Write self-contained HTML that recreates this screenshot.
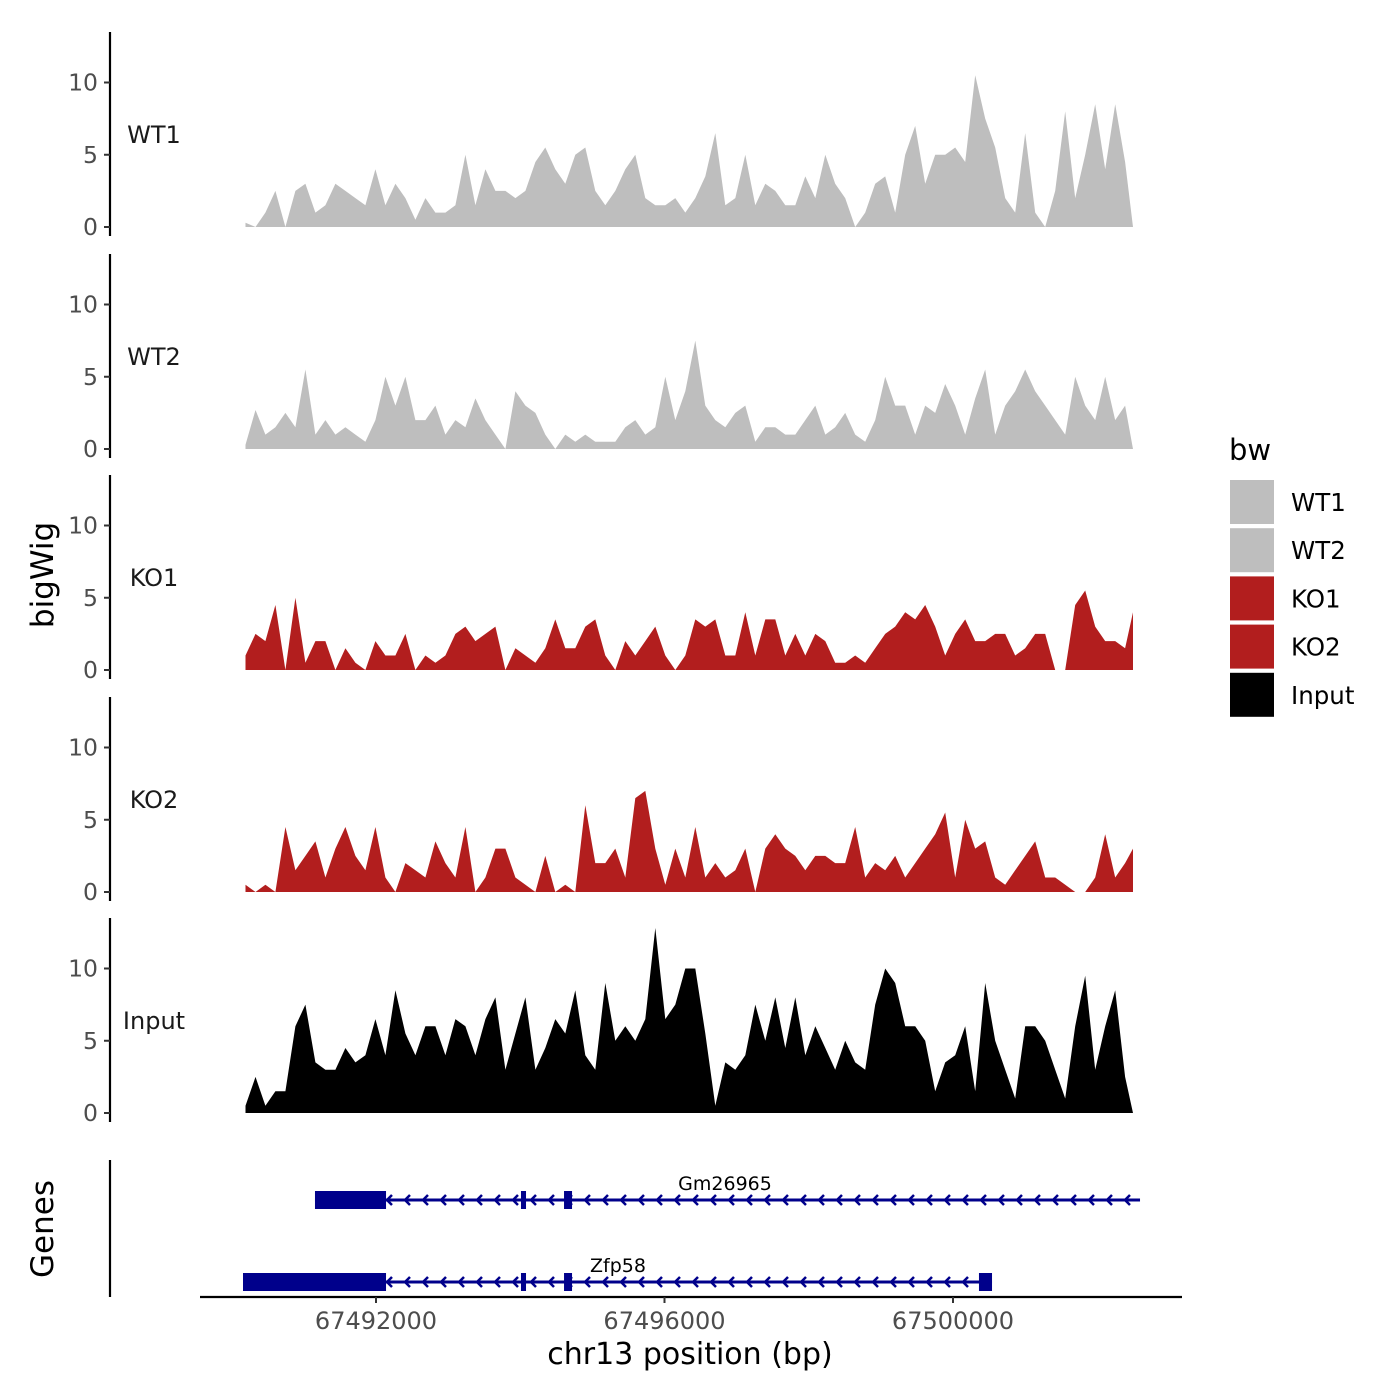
<!DOCTYPE html>
<html><head><meta charset="utf-8"><style>
html,body{margin:0;padding:0;background:#fff;}
svg{display:block;font-family:"DejaVu Sans","Liberation Sans",sans-serif;}
</style></head><body>
<svg id="chart" width="1400" height="1400" viewBox="0 0 1400 1400"></svg>
<script>
const tracks = ["WT1","WT2","KO1","KO2","Input"];
const trackColors = ["#bebebe","#bebebe","#b21e1e","#b21e1e","#000000"];
const binStart = 67490190;
const binSize = 138.6;
const wt1 = [0.3,0,1,2.5,0,2.5,3,1,1.5,3,2.5,2,1.5,4,1.5,3,2,0.5,2,1,1,1.5,5,1.5,4,2.5,2.5,2,2.5,4.5,5.5,4,3,5,5.5,2.5,1.5,2.5,4,5,2,1.5,1.5,2,1,2,3.5,6.5,1.5,2,5,1.5,3,2.5,1.5,1.5,3.5,2,5,3,2,0,1,3,3.5,1,5,7,3,5,5,5.5,4.5,10.5,7.5,5.5,2,1,6.5,1,0,2.5,8,2,5,8.5,4,8.5,4.5,0];
const wt2 = [0.3,2.7,1,1.5,2.5,1.5,5.5,1,2,1,1.5,1,0.5,2,5,3,5,2,2,3,1,2,1.5,3.5,2,1,0,4,3,2.5,1,0,1,0.5,1,0.5,0.5,0.5,1.5,2,1,1.5,5,2,4,7.5,3,2,1.5,2.5,3,0.5,1.5,1.5,1,1,2,3,1,1.5,2.5,1,0.5,2,5,3,3,1,3,2.5,4.5,3,1,3.5,5.5,1,3,4,5.5,4,3,2,1,5,3,2,5,2,3,0];
const ko1 = [1,2.5,2,4.5,0,5,0.5,2,2,0,1.5,0.5,0,2,1,1,2.5,0,1,0.5,1,2.5,3,2,2.5,3,0,1.5,1,0.5,1.5,3.5,1.5,1.5,3,3.5,1,0,2,1,2,3,1,0,1,3.5,3,3.5,1,1,4,1,3.5,3.5,1,2.5,1,2.5,2,0.5,0.5,1,0.5,1.5,2.5,3,4,3.5,4.5,3,1,2.5,3.5,2,2,2.5,2.5,1,1.5,2.5,2.5,0,0,4.5,5.5,3,2,2,1.5,4];
const ko2 = [0.5,0,0.5,0,4.5,1.5,2.5,3.5,1,3,4.5,2.5,1.5,4.5,1,0,2,1.5,1,3.5,2,1,4.5,0,1,3,3,1,0.5,0,2.5,0,0.5,0,6,2,2,3,1,6.5,7,3,0.5,3,1,4.5,1,2,1,1.5,3,0,3,4,3,2.5,1.5,2.5,2.5,2,2,4.5,1,2,1.5,2.5,1,2,3,4,5.5,1,5,3,3.5,1,0.5,1.5,2.5,3.5,1,1,0.5,0,0,1,4,1,2,3];
const input = [0.5,2.5,0.5,1.5,1.5,6,7.5,3.5,3,3,4.5,3.5,4,6.5,4,8.5,5.5,4,6,6,4,6.5,6,4,6.5,8,3,5.5,8,3,4.5,6.5,5.5,8.5,4,3,9,5,6,5,6.5,12.8,6.5,7.5,10,10,5.5,0.5,3.5,3,4,7.5,5,8,4.5,8,4,6,4.5,3,5,3.5,3,7.5,10,9,6,6,5,1.5,3.5,4,6,1.5,9,5,3,1,6,6,5,3,1,6,9.5,3,6,8.5,2.5,0];
const trackValues = [wt1,wt2,ko1,ko2,input];
const yTicks = [0,5,10];
const xTicks = [67492000,67496000,67500000];
const xTickLabels = ["67492000","67496000","67500000"];
const genes = ["Gm26965","Zfp58"];
const geneStarts = [67491154,67490156];
const geneEnds = [67502593,67500541];
const geneExons = [
  [[67491154,67492139],[67494010,67494080],[67494607,67494718]],
  [[67490156,67492139],[67494010,67494080],[67494607,67494718],[67500360,67500541]]
];
const geneLabelPos = [67496839,67495355];

const NS="http://www.w3.org/2000/svg";
const svg=document.getElementById('chart');
function mk(tag,attrs,parent){const e=document.createElementNS(NS,tag);for(const k in attrs)e.setAttribute(k,attrs[k]);(parent||svg).appendChild(e);return e;}
function xScale(bp){return 376+(bp-67492000)*0.072125;}
const panelZero=[227,449,670,892,1113];
const pxPerUnit=14.45;
function yScale(p,v){return panelZero[p]-v*pxPerUnit;}

tracks.forEach((t,p)=>{
  const g=mk('g',{});
  
  
  const vals=trackValues[p];
  let d='M'+xScale(binStart).toFixed(1)+','+yScale(p,0);
  vals.forEach((v,i)=>{let x=xScale(binStart+i*binSize);if(x>1133)x=1133;d+=' L'+x.toFixed(1)+','+yScale(p,v).toFixed(1);});
  let xe=xScale(binStart+(vals.length-1)*binSize);if(xe>1133)xe=1133;
  d+=' L'+xe.toFixed(1)+','+yScale(p,0)+' Z';
  const a=mk('path',{d:d,fill:trackColors[p],stroke:'none'},g);
  
  
  const top=panelZero[p]-195, bot=panelZero[p]+9;
  const ax=mk('line',{x1:110,x2:110,y1:top,y2:bot,stroke:'#000','stroke-width':2.2},g);
  
  
  yTicks.forEach(v=>{
    const y=yScale(p,v);
    mk('line',{x1:104,x2:110,y1:y,y2:y,stroke:'#333','stroke-width':2},g);
    const tx=mk('text',{x:98,y:y+8,'text-anchor':'end','font-size':23.5,fill:'#4d4d4d'},g);
    tx.textContent=v;
    
    
  });
  const lb=mk('text',{x:154,y:panelZero[p]-84,'text-anchor':'middle','font-size':24,fill:'#1a1a1a'},g);
  lb.textContent=t;
  
  
});

const yt=mk('text',{x:0,y:0,transform:'translate(53,575) rotate(-90)','text-anchor':'middle','font-size':31,fill:'#000'});
yt.textContent='bigWig';



const gax=mk('line',{x1:110,x2:110,y1:1160,y2:1297,stroke:'#000','stroke-width':2.2});


const gt=mk('text',{x:0,y:0,transform:'translate(53,1229) rotate(-90)','text-anchor':'middle','font-size':31,fill:'#000'});
gt.textContent='Genes';


const geneY=[1200,1282];
genes.forEach((gname,gi)=>{
  const g=mk('g',{});
  
  
  const y=geneY[gi], x1=xScale(geneStarts[gi]), x2=xScale(geneEnds[gi]);
  mk('line',{x1:x1,x2:x2,y1:y,y2:y,stroke:'#00008b','stroke-width':3},g);
  for(let x=x1+72;x<x2;x+=18){
    mk('path',{d:`M${x+5},${y-5} L${x},${y} L${x+5},${y+5}`,fill:'none',stroke:'#00008b','stroke-width':2.5},g);
  }
  geneExons[gi].forEach(e=>{
    const ex=mk('rect',{x:xScale(e[0]),y:y-9,width:Math.max(xScale(e[1])-xScale(e[0]),5),height:18,fill:'#00008b'},g);
    
    
  });
  const gl=mk('text',{x:xScale(geneLabelPos[gi]),y:y-10,'text-anchor':'middle','font-size':19,fill:'#000'},g);
  gl.textContent=gname;
  
  
});

const xa=mk('line',{x1:200,x2:1182,y1:1297,y2:1297,stroke:'#000','stroke-width':2.2});


xTicks.forEach((v,i)=>{
  const x=xScale(v);
  mk('line',{x1:x,x2:x,y1:1297,y2:1303,stroke:'#333','stroke-width':2});
  const t=mk('text',{x:x,y:1329,'text-anchor':'middle','font-size':24,fill:'#4d4d4d'});
  t.textContent=xTickLabels[i];
  
  
});
const xt=mk('text',{x:690,y:1364,'text-anchor':'middle','font-size':30,fill:'#000'});
xt.textContent='chr13 position (bp)';



const lg=mk('g',{});


const lt=mk('text',{x:1229,y:460,'font-size':29,fill:'#000'},lg);
lt.textContent='bw';


tracks.forEach((t,i)=>{
  const y=480+i*48.2;
  const r=mk('rect',{x:1230,y:y,width:44,height:44,fill:trackColors[i]},lg);
  
  
  const tx=mk('text',{x:1291,y:y+31,'font-size':24.5,fill:'#000'},lg);
  tx.textContent=t;
  
  
});
</script>
</body></html>
